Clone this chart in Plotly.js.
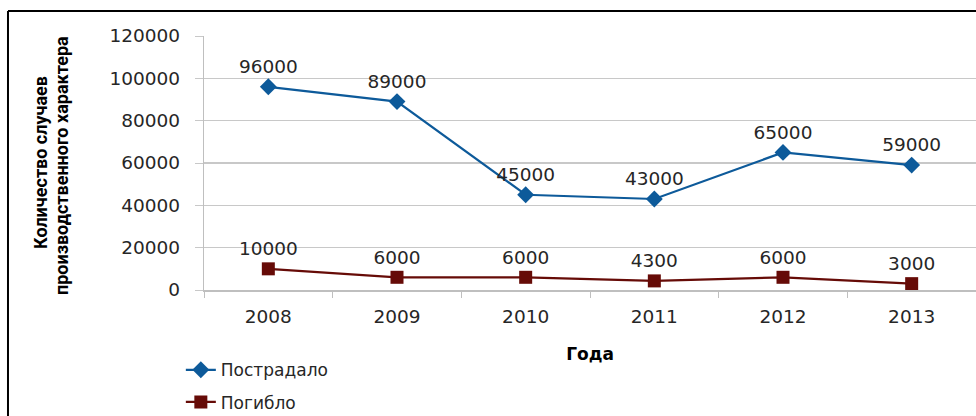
<!DOCTYPE html>
<html>
<head>
<meta charset="utf-8">
<script src="https://cdn.plot.ly/plotly-3.0.1.min.js"></script>
<style>
html,body{margin:0;padding:0;background:#fff;}
#chart{width:976px;height:416px;}
</style>
</head>
<body>
<div id="chart"></div>
<script>
const years = ['2008', '2009', '2010', '2011', '2012', '2013'];
const injured = [96000, 89000, 45000, 43000, 65000, 59000];
const killed = [10000, 6000, 6000, 4300, 6000, 3000];
const seriesNames = ['Пострадало', 'Погибло'];
const yTicks = [0, 20000, 40000, 60000, 80000, 100000, 120000];
const yTitleLines = ['Количество случаев', 'производственного характера'];
const xTitle = 'Года';

const numFont = {family: 'DejaVu Sans', size: 18.5, color: '#262626'};
const titleFont = {family: 'Liberation Sans Narrow, Roboto, sans-serif', size: 18, color: '#000', weight: 'bold'};

const traces = [
  {
    x: years, y: injured, name: seriesNames[0], legendgroup: 'g1', type: 'scatter', mode: 'lines+markers+text',
    line: {color: '#0D5A9A', width: 2.2},
    marker: {symbol: 'diamond', size: 13, color: '#0D5A9A'},
    text: injured.map(String), textposition: 'top center', textfont: numFont,
    cliponaxis: false
  },
  {
    x: years, y: killed, name: seriesNames[1], legendgroup: 'g2', type: 'scatter', mode: 'lines+markers+text',
    line: {color: '#660B07', width: 2.2},
    marker: {symbol: 'square', size: 13, color: '#660B07'},
    text: killed.map(String), textposition: 'top center', textfont: numFont,
    cliponaxis: false
  }
];

const layout = {
  width: 976, height: 416,
  margin: {l: 204, r: 0, t: 36, b: 126, autoexpand: false},
  paper_bgcolor: '#ffffff', plot_bgcolor: '#ffffff',
  showlegend: true,
  legend: {
    x: -0.03, y: -0.245, xanchor: 'left', yanchor: 'top', orientation: 'v',
    font: {family: 'DejaVu Sans', size: 17, color: '#262626'},
    tracegroupgap: 7, itemwidth: 30
  },
  xaxis: {
    type: 'category', range: [-0.5, 5.5],
    showgrid: false, showline: true, linecolor: '#BFBFBF', linewidth: 1.5,
    ticks: 'outside', ticklen: 6, tickcolor: '#BFBFBF', tickson: 'boundaries',
    tickfont: numFont, ticklabelstandoff: 9,
    title: {text: xTitle, font: {family: 'DejaVu Sans', size: 17, color: '#000', weight: 'bold'}, standoff: 22},
    fixedrange: true
  },
  yaxis: {
    range: [0, 120000], tickvals: yTicks, ticktext: yTicks.map(String),
    showgrid: true, gridcolor: '#C8C8C8', gridwidth: 1.3,
    showline: true, linecolor: '#BFBFBF', linewidth: 1.3,
    ticks: 'outside', ticklen: 8, tickcolor: '#C8C8C8',
    zeroline: false,
    tickfont: numFont, ticklabelstandoff: 11,
    fixedrange: true
  },
  annotations: [
    {text: yTitleLines[0], xref: 'paper', yref: 'paper', x: (40 - 204) / 772, y: (290 - 163) / 254,
     xanchor: 'center', yanchor: 'middle', textangle: -90, showarrow: false, font: titleFont},
    {text: yTitleLines[1], xref: 'paper', yref: 'paper', x: (61 - 204) / 772, y: (290 - 166) / 254,
     xanchor: 'center', yanchor: 'middle', textangle: -90, showarrow: false, font: titleFont}
  ],
  shapes: [
    {type: 'line', xref: 'paper', yref: 'paper', x0: -0.2539, x1: 1.0, y0: 1.098, y1: 1.098,
     line: {color: '#000', width: 2}},
    {type: 'line', xref: 'paper', yref: 'paper', x0: -0.2539, x1: -0.2539, y0: 1.098, y1: -0.53,
     line: {color: '#000', width: 2}}
  ]
};

Plotly.newPlot('chart', traces, layout, {displayModeBar: false, staticPlot: true});
</script>
</body>
</html>
